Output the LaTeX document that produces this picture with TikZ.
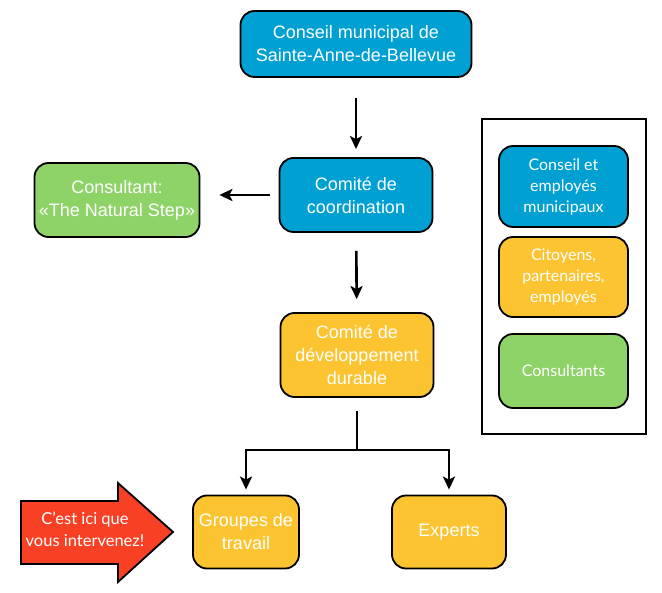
\documentclass[tikz,border=0pt]{standalone}
\usepackage{fontspec}
\setmainfont{Liberation Sans}
\newfontfamily\legendfont{Lato}
\usetikzlibrary{arrows.meta,positioning}
\definecolor{bleu}{RGB}{0,160,210}
\definecolor{jaune}{RGB}{252,196,48}
\definecolor{vert}{RGB}{142,211,104}
\definecolor{rouge}{RGB}{248,64,36}
\tikzstyle{boite}=[shape=rectangle,rounded corners=14pt,draw=black,line width=1.8pt,text=white,align=center,inner sep=0pt,font=\fontsize{18}{23}\selectfont]
\tikzstyle{legende}=[boite,minimum width=129pt,font=\legendfont\fontsize{16}{21}\selectfont]
\tikzstyle{fleche}=[-{Stealth[length=13pt,width=12pt,inset=3pt]},line width=2.6pt]
\tikzstyle{trait}=[line width=2.6pt]

\begin{document}
\begin{tikzpicture}[x=1pt,y=-1pt]
\useasboundingbox (0,0) rectangle (662,593);

\node[boite,fill=bleu,minimum width=231pt,minimum height=66pt] (conseil) at (356,44){Conseil municipal de\\Sainte-Anne-de-Bellevue};
\node[boite,fill=bleu,minimum width=153pt,minimum height=74pt] (coord) at (356,195){Comité de\\coordination};
\node[boite,fill=vert,minimum width=165pt,minimum height=74pt] (consult) at (117,200){Consultant:\\«The Natural Step»};
\node[boite,fill=jaune,minimum width=153pt,minimum height=84pt] (dev) at (357,355){Comité de\\développement\\durable};
\node[boite,fill=jaune,minimum width=106pt,minimum height=73pt] (groupes) at (246,532){Groupes de\\travail};
\node[boite,fill=jaune,minimum width=114pt,minimum height=73pt] (experts) at (449,532){Experts};

% legende
\node[draw=black,line width=2pt,minimum width=164pt,minimum height=315pt] (cadre) at (564,276.5){};
\node[legende,fill=bleu,minimum height=81pt] (leg1) at (563.5,186.5){Conseil et\\employés\\municipaux};
\node[legende,fill=jaune,minimum height=80pt] (leg2) at (563.5,277){Citoyens,\\partenaires,\\employés};
\node[legende,fill=vert,minimum height=74pt] (leg3) at (563.5,371){Consultants};

% fleche rouge
\filldraw[fill=rouge,draw=black,line width=1.8pt] (21,501) -- (118,501) -- (118,483) -- (173,532) -- (118,582) -- (118,564) -- (21,564) -- cycle;
\node[text=white,align=center,font=\legendfont\fontsize{16.5}{22}\selectfont] (ici) at (85,529){C’est ici que\\vous intervenez!};

\coordinate (split) at (357,450);

\draw[fleche,shorten <=20pt,shorten >=8pt] (conseil) -- (coord);
\draw[fleche,shorten <=9pt,shorten >=19pt] (coord) -- (coord -| consult.east);
\draw[fleche,shorten <=18pt,shorten >=13pt] (coord) -- (dev);
\draw[trait,shorten <=13pt] (dev) -- (split);
\draw[fleche,shorten >=5pt] (split) -| (groupes);
\draw[fleche,shorten >=5pt] (split) -| (experts);

\end{tikzpicture}
\end{document}
